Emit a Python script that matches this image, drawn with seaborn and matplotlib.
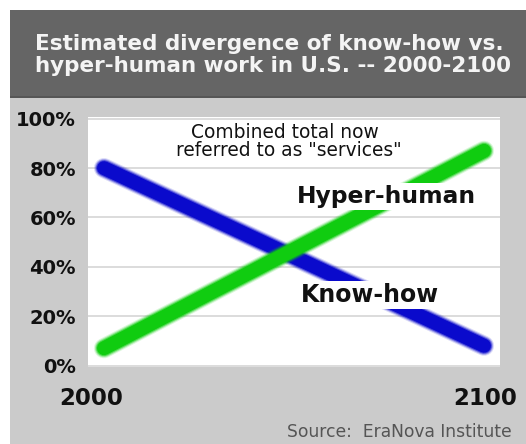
import matplotlib
matplotlib.use("Agg")
import matplotlib.pyplot as plt
import seaborn as sns
import pandas as pd
from matplotlib.patches import Rectangle

# Data: share of U.S. work, start and end of the century
years = [2000, 2100]
know_how = [80, 8]
hyper_human = [7, 87]
series_names = ["Know-how", "Hyper-human"]
y_ticks = [0, 20, 40, 60, 80, 100]
y_tick_labels = ["0%", "20%", "40%", "60%", "80%", "100%"]
x_labels = ["2000", "2100"]

df = pd.concat([
    pd.DataFrame({"year": years, "share": know_how, "series": series_names[0]}),
    pd.DataFrame({"year": years, "share": hyper_human, "series": series_names[1]}),
])
colors = {"Know-how": "#0a0acc", "Hyper-human": "#10cc10"}

sns.set_theme(style="white")
plt.rcParams["font.family"] = ["DejaVu Sans"]

W, H = 526, 444
fig = plt.figure(figsize=(W / 100, H / 100), dpi=100)
fig.patch.set_facecolor("white")

def fx(px):
    return px / W

def fy(py):
    return (H - py) / H

# Background panels
fig.patches.append(Rectangle((fx(10), 0), 1 - fx(10), fy(98), transform=fig.transFigure,
                             facecolor="#cbcbcb", edgecolor="none", zorder=-10))
fig.patches.append(Rectangle((fx(10), fy(98)), 1 - fx(10), fy(10) - fy(98),
                             transform=fig.transFigure, facecolor="#656565",
                             edgecolor="none", zorder=-10))
fig.patches.append(Rectangle((fx(10), fy(98)), 1 - fx(10), 1.5 / H,
                             transform=fig.transFigure, facecolor="#565656",
                             edgecolor="none", zorder=-9))

# Title
fig.text(fx(35), fy(50), "Estimated divergence of know-how vs.", color="#f4f4f4",
         fontsize=15.5, fontweight="bold", ha="left", va="baseline")
fig.text(fx(35), fy(72), "hyper-human work in U.S. -- 2000-2100", color="#f4f4f4",
         fontsize=15.5, fontweight="bold", ha="left", va="baseline")

# Plot area
ax_l, ax_r, ax_t, ax_b = 88, 500, 117, 367
ax = fig.add_axes([fx(ax_l), fy(ax_b), (ax_r - ax_l) / W, (ax_b - ax_t) / H])
ax.set_zorder(1)
ax.set_facecolor("white")

for name, vals in zip(series_names, [know_how, hyper_human]):
    sub = df[df["series"] == name]
    # soft edge around each band
    for lw, a in [(14.5, 0.15), (13.0, 0.3), (11.5, 0.55)]:
        sns.lineplot(data=sub, x="year", y="share", color=colors[name], linewidth=lw,
                     alpha=a, ax=ax, legend=False, solid_capstyle="round", zorder=3)
    sns.lineplot(data=sub, x="year", y="share", color=colors[name], linewidth=10.0,
                 ax=ax, legend=False, solid_capstyle="round", zorder=3)

ax.set_xlim(1995.8, 2104.2)
ax.set_ylim(-0.6, 100.7)
ax.set_yticks(y_ticks)
ax.set_yticklabels(y_tick_labels)
ax.set_xticks([])
ax.set_xlabel("")
ax.set_ylabel("")
ax.yaxis.grid(True, color="#d2d2d2", linewidth=1.1)
ax.set_axisbelow(True)
for s in ax.spines.values():
    s.set_visible(False)
ax.tick_params(axis="y", length=0, pad=8.6, labelsize=14, labelcolor="#111111")
for lab in ax.get_yticklabels():
    lab.set_fontweight("bold")

def axx(px):
    return (px - ax_l) / (ax_r - ax_l)

def axy(py):
    return (ax_b - py) / (ax_b - ax_t)

ax.text(axx(285), axy(138), "Combined total now", transform=ax.transAxes,
        fontsize=13.4, color="#111111", ha="center", va="baseline", zorder=5)
ax.text(axx(289), axy(156), 'referred to as "services"', transform=ax.transAxes,
        fontsize=13.4, color="#111111", ha="center", va="baseline", zorder=5)
ax.text(axx(386), axy(203), "Hyper-human", transform=ax.transAxes, fontsize=16.8,
        fontweight="bold", color="#111111", ha="center", va="baseline", zorder=6,
        bbox=dict(facecolor="white", edgecolor="none", pad=1.5))
ax.text(axx(370), axy(302), "Know-how", transform=ax.transAxes, fontsize=17,
        fontweight="bold", color="#111111", ha="center", va="baseline", zorder=6,
        bbox=dict(facecolor="white", edgecolor="none", pad=1.5))

# Year labels and source
fig.text(fx(91), fy(405), x_labels[0], fontsize=16.5, fontweight="bold",
         color="#111111", ha="center", va="baseline")
fig.text(fx(485), fy(405), x_labels[1], fontsize=16.5, fontweight="bold",
         color="#111111", ha="center", va="baseline")
fig.text(fx(512), fy(437), "Source:  EraNova Institute", fontsize=12.3,
         color="#555555", ha="right", va="baseline")

fig.savefig("out.png", dpi=100, facecolor=fig.get_facecolor())
